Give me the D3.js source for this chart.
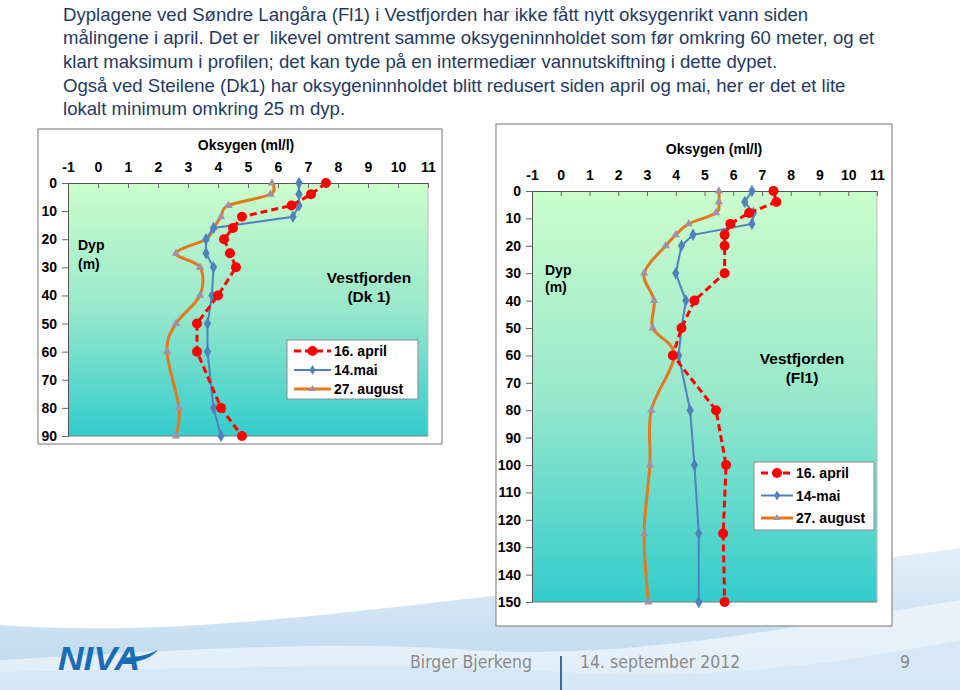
<!DOCTYPE html>
<html>
<head>
<meta charset="utf-8">
<script src="https://cdn.jsdelivr.net/npm/d3@7"></script>
<style>
  body { margin: 0; background: #fff; }
  svg { display: block; font-family: "Liberation Sans", Arial, sans-serif; }
  .intro text { white-space: pre; }
</style>
</head>
<body>
<div id="slide"></div>
<script>
// ---- data ----
const seriesNames = ['16. april', '14.mai', '27. august'];
const seriesNamesFl1 = ['16. april', '14-mai', '27. august'];

const depthDk1 = [0, 4, 8, 12, 16, 20, 25, 30, 40, 50, 60, 80, 90];
const aprilDk1 = [7.6, 7.1, 6.45, 4.8, 4.5, 4.2, 4.4, 4.6, 4.0, 3.3, 3.3, 4.1, 4.8];
const maiDk1 = [6.7, 6.7, 6.7, 6.5, 3.85, 3.6, 3.6, 3.85, 3.8, 3.65, 3.65, 3.85, 4.1];
const augDk1 = [5.8, 5.75, 4.35, 4.1, 3.85, 3.6, 2.6, 3.4, 3.4, 2.6, 2.3, 2.7, 2.6];

const depthFl1 = [0, 4, 8, 12, 16, 20, 30, 40, 50, 60, 80, 100, 125, 150];
const aprilFl1 = [7.4, 7.5, 6.55, 5.9, 5.7, 5.7, 5.7, 4.65, 4.2, 3.9, 5.4, 5.75, 5.65, 5.7];
const maiFl1 = [6.65, 6.4, 6.7, 6.65, 4.6, 4.2, 4.0, 4.35, 4.2, 4.1, 4.5, 4.65, 4.8, 4.8];
const augFl1 = [5.5, 5.5, 5.4, 4.45, 4.0, 3.65, 2.9, 3.25, 3.2, 3.95, 3.15, 3.1, 2.9, 3.05];

const oxyTicks = [-1, 0, 1, 2, 3, 4, 5, 6, 7, 8, 9, 10, 11];
const depthTicksDk1 = [0, 10, 20, 30, 40, 50, 60, 70, 80, 90];
const depthTicksFl1 = [0, 10, 20, 30, 40, 50, 60, 70, 80, 90, 100, 110, 120, 130, 140, 150];

const introLines = [
    'Dyplagene ved Søndre Langåra (Fl1) i Vestfjorden har ikke fått nytt oksygenrikt vann siden',
    'målingene i april. Det er  likevel omtrent samme oksygeninnholdet som før omkring 60 meter, og et',
    'klart maksimum i profilen; det kan tyde på en intermediær vannutskiftning i dette dypet.',
    'Også ved Steilene (Dk1) har oksygeninnholdet blitt redusert siden april og mai, her er det et lite',
    'lokalt minimum omkring 25 m dyp.'
];

const W = 960, H = 690;
const svg = d3.select('#slide').append('svg').attr('width', W).attr('height', H);
const defs = svg.append('defs');

// ---- background wave ----
const wave = defs.append('linearGradient').attr('id', 'wave').attr('x1', 0).attr('y1', 0).attr('x2', 0).attr('y2', 1);
wave.append('stop').attr('offset', 0).attr('stop-color', '#e4eff8');
wave.append('stop').attr('offset', 1).attr('stop-color', '#b9d6ee');
svg.append('path')
    .attr('d', 'M0,625 C200,640 420,600 600,585 C760,572 880,560 960,548 L960,690 L0,690 Z')
    .attr('fill', 'url(#wave)');
svg.append('path')
    .attr('d', 'M0,660 C180,650 330,640 470,650 C620,660 780,630 960,600 L960,690 L0,690 Z')
    .attr('fill', '#ffffff').attr('opacity', 0.55);
svg.append('path')
    .attr('d', 'M0,672 C220,668 400,662 560,672 C720,682 860,660 960,640 L960,690 L0,690 Z')
    .attr('fill', '#d3e5f4').attr('opacity', 0.8);

// ---- intro text ----
const intro = svg.append('g').attr('class', 'intro').attr('fill', '#1f3b64').attr('font-size', 18.6);
introLines.forEach(function(t, i) {
    intro.append('text')
        .attr('x', 63)
        .attr('y', 20.5 + i * 23.6 + (i >= 3 ? 0.5 : 0))
        .text(t);
});

// ---- plot gradient ----
const pg = defs.append('linearGradient').attr('id', 'plotbg').attr('x1', 0).attr('y1', 0).attr('x2', 0).attr('y2', 1);
pg.append('stop').attr('offset', 0).attr('stop-color', '#ccfdcc');
pg.append('stop').attr('offset', 0.5).attr('stop-color', '#98e8cc');
pg.append('stop').attr('offset', 1).attr('stop-color', '#33cccc');

const colors = { april: '#ff0000', mai: '#4f81bd', aug: '#e3791e', augMarker: '#a58fa5' };

function drawChart(cfg) {
    const g = svg.append('g');
    g.append('rect')
        .attr('x', cfg.box.x).attr('y', cfg.box.y)
        .attr('width', cfg.box.w).attr('height', cfg.box.h)
        .attr('fill', '#fff').attr('stroke', '#8c8c8c').attr('stroke-width', 1.2);

    const x = d3.scaleLinear().domain([-1, 11]).range([cfg.plot.left, cfg.plot.right]);
    const y = d3.scaleLinear().domain(cfg.yDomain).range([cfg.plot.top, cfg.plot.bottom]);

    g.append('rect')
        .attr('x', x(-1)).attr('y', y(cfg.yDomain[0]))
        .attr('width', x(11) - x(-1)).attr('height', y(cfg.yDomain[1]) - y(cfg.yDomain[0]))
        .attr('fill', 'url(#plotbg)');
    g.append('line')
        .attr('x1', x(11)).attr('x2', x(11)).attr('y1', y(cfg.yDomain[0])).attr('y2', y(cfg.yDomain[1]))
        .attr('stroke', '#bdbdbd');
    g.append('line')
        .attr('x1', x(-1)).attr('x2', x(11)).attr('y1', y(cfg.yDomain[1])).attr('y2', y(cfg.yDomain[1]))
        .attr('stroke', '#7a7a7a');

    // axes
    const xAxis = g.append('g')
        .attr('transform', 'translate(0,' + y(0) + ')')
        .call(d3.axisTop(x).tickValues(oxyTicks).tickSize(-5).tickPadding(11).tickFormat(d3.format('d')));
    const yAxis = g.append('g')
        .attr('transform', 'translate(' + x(-1) + ',0)')
        .call(d3.axisLeft(y).tickValues(cfg.yTicks).tickSize(6).tickPadding(5));
    [xAxis, yAxis].forEach(function(a) {
        a.select('.domain').attr('stroke', '#555');
        a.selectAll('.tick line').attr('stroke', '#666');
        a.selectAll('.tick text')
            .attr('fill', '#000').attr('font-size', 14).attr('font-weight', 'bold')
            .attr('font-family', '"Liberation Sans", Arial, sans-serif');
    });
    xAxis.selectAll('.tick text').text(function(d) { return d < 0 ? '-' + Math.abs(d) : d; });

    g.append('text')
        .attr('x', cfg.titleX).attr('y', cfg.titleY)
        .attr('text-anchor', 'middle').attr('font-size', 14).attr('font-weight', 'bold')
        .text('Oksygen (ml/l)');

    const dyp = g.append('text').attr('font-size', 14).attr('font-weight', 'bold')
        .attr('x', cfg.dyp.x).attr('y', cfg.dyp.y);
    dyp.append('tspan').attr('x', cfg.dyp.x).text('Dyp');
    dyp.append('tspan').attr('x', cfg.dyp.x).attr('dy', cfg.dyp.dy).text('(m)');

    const st = g.append('text').attr('font-size', 15.5).attr('font-weight', 'bold')
        .attr('text-anchor', 'middle').attr('y', cfg.station.y);
    st.append('tspan').attr('x', cfg.station.x).text('Vestfjorden');
    st.append('tspan').attr('x', cfg.station.x).attr('dy', 19).text(cfg.station.name);

    // series
    function pts(depths, vals) { return depths.map(function(d, i) { return [x(vals[i]), y(d)]; }); }

    const straight = d3.line();
    const smooth = d3.line().curve(d3.curveCardinal.tension(0));

    const aug = pts(cfg.depth, cfg.aug);
    g.append('path').attr('d', smooth(aug)).attr('fill', 'none')
        .attr('stroke', colors.aug).attr('stroke-width', 3);
    g.append('g').selectAll('path').data(aug).enter().append('path')
        .attr('d', d3.symbol(d3.symbolTriangle, 30)())
        .attr('transform', function(p) { return 'translate(' + p[0] + ',' + p[1] + ')'; })
        .attr('fill', colors.augMarker);

    const mai = pts(cfg.depth, cfg.mai);
    g.append('path').attr('d', straight(mai)).attr('fill', 'none')
        .attr('stroke', colors.mai).attr('stroke-width', 2);
    g.append('g').selectAll('path').data(mai).enter().append('path')
        .attr('d', d3.symbol(d3.symbolDiamond, 45)())
        .attr('transform', function(p) { return 'translate(' + p[0] + ',' + p[1] + ')'; })
        .attr('fill', colors.mai);

    const apr = pts(cfg.depth, cfg.april);
    g.append('path').attr('d', straight(apr)).attr('fill', 'none')
        .attr('stroke', colors.april).attr('stroke-width', 3).attr('stroke-dasharray', '7,4');
    g.append('g').selectAll('circle').data(apr).enter().append('circle')
        .attr('cx', function(p) { return p[0]; }).attr('cy', function(p) { return p[1]; })
        .attr('r', 5).attr('fill', colors.april);

    // legend
    const L = cfg.legend;
    g.append('rect').attr('x', L.x).attr('y', L.y).attr('width', L.w).attr('height', L.h)
        .attr('fill', '#fff').attr('stroke', '#8c8c8c');
    const rows = [
        { name: cfg.names[0], color: colors.april, dash: '7,4', w: 3, sym: 'circle' },
        { name: cfg.names[1], color: colors.mai, dash: null, w: 2, sym: 'diamond' },
        { name: cfg.names[2], color: colors.aug, dash: null, w: 3, sym: 'triangle' }
    ];
    rows.forEach(function(r, i) {
        const ry = L.y + L.row0 + i * L.step;
        const x0 = L.x + 7, x1 = L.x + L.lineW;
        g.append('line').attr('x1', x0).attr('x2', x1).attr('y1', ry).attr('y2', ry)
            .attr('stroke', r.color).attr('stroke-width', r.w).attr('stroke-dasharray', r.dash);
        const mx = (x0 + x1) / 2;
        if (r.sym === 'circle') {
            g.append('circle').attr('cx', mx).attr('cy', ry).attr('r', 5).attr('fill', r.color);
        } else if (r.sym === 'diamond') {
            g.append('path').attr('d', d3.symbol(d3.symbolDiamond, 30)())
                .attr('transform', 'translate(' + mx + ',' + ry + ')').attr('fill', r.color);
        } else {
            g.append('path').attr('d', d3.symbol(d3.symbolTriangle, 22)())
                .attr('transform', 'translate(' + mx + ',' + ry + ')').attr('fill', colors.augMarker);
        }
        g.append('text').attr('x', x1 + 3).attr('y', ry + 5)
            .attr('font-size', 14).attr('font-weight', 'bold').text(r.name);
    });
}

drawChart({
    box: { x: 38, y: 129, w: 404, h: 315 },
    plot: { left: 68, right: 428, top: 183, bottom: 436 },
    yDomain: [0, 90], yTicks: depthTicksDk1,
    titleX: 246, titleY: 150,
    dyp: { x: 78, y: 250, dy: 19 },
    station: { x: 369, y: 283, name: '(Dk 1)' },
    depth: depthDk1, april: aprilDk1, mai: maiDk1, aug: augDk1,
    names: seriesNames,
    legend: { x: 287, y: 340, w: 131, h: 59, row0: 11, step: 19, lineW: 44 }
});

drawChart({
    box: { x: 496, y: 124, w: 396, h: 502 },
    plot: { left: 532, right: 877, top: 191, bottom: 602 },
    yDomain: [0, 150], yTicks: depthTicksFl1,
    titleX: 714, titleY: 154,
    dyp: { x: 545, y: 275, dy: 17 },
    station: { x: 802, y: 364, name: '(Fl1)' },
    depth: depthFl1, april: aprilFl1, mai: maiFl1, aug: augFl1,
    names: seriesNamesFl1,
    legend: { x: 754, y: 462, w: 120, h: 68, row0: 11, step: 22.5, lineW: 39 }
});

// ---- footer ----
const foot = svg.append('g').attr('fill', '#8a8a8a').attr('font-size', 17.5)
    .attr('font-family', '"Liberation Sans Narrow", "DejaVu Sans Condensed", sans-serif');
foot.append('text').attr('x', 410).attr('y', 668).text('Birger Bjerkeng');
foot.append('text').attr('x', 580).attr('y', 668).text('14. september 2012');
foot.append('text').attr('x', 900).attr('y', 668).text('9');
svg.append('line').attr('x1', 561).attr('x2', 561).attr('y1', 656).attr('y2', 690)
    .attr('stroke', '#3b6aa6').attr('stroke-width', 2);

// NIVA logo
const logo = svg.append('g').attr('fill', '#1b6cb6');
logo.append('text').attr('x', 58).attr('y', 670)
    .attr('font-size', 33).attr('font-weight', 'bold').attr('font-style', 'italic')
    .attr('textLength', 82).attr('lengthAdjust', 'spacingAndGlyphs')
    .text('NIVA');
logo.append('path')
    .attr('d', 'M124,658 C134,657 146,656 158,650 C152,657 142,662 126,663 Z');
</script>
</body>
</html>
